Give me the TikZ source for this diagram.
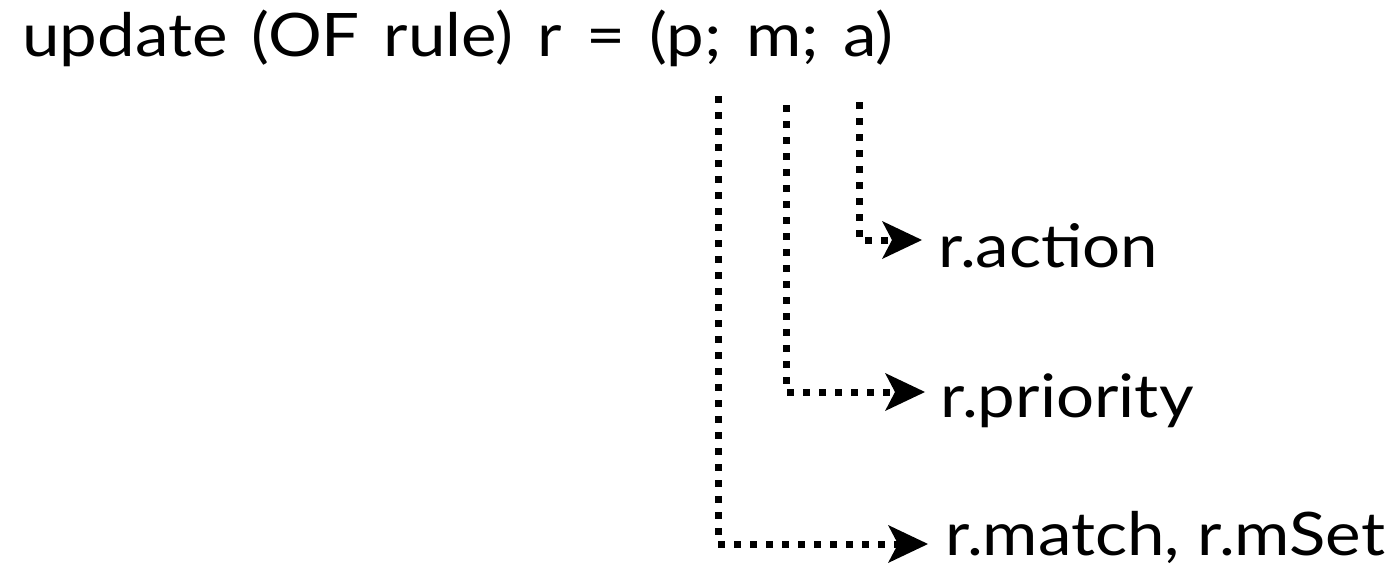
\documentclass[tikz,border=0pt]{standalone}
\usepackage{fontspec}
\setmainfont{Lato}
\usetikzlibrary{arrows.meta}
\begin{document}
\begin{tikzpicture}[x=1pt,y=-1pt,
  lbl/.style={inner sep=0pt,anchor=base west,font=\fontsize{60}{60}\selectfont},
  conn/.style={line width=7pt,dash pattern=on 7pt off 9pt,
    -{Stealth[length=40pt,width=38pt,inset=10pt,line width=0pt]}}]
\useasboundingbox (0,0) rectangle (1397,578);
\node[lbl] (title) at (22,57) {\scalebox{1.12}[1]{\spaceskip=21.5pt update (OF rule) r = (p; m; a)}};
\coordinate (p) at (718,96);
\coordinate (m) at (786,105);
\coordinate (a) at (859,102);
\coordinate (pe) at (928,544);
\coordinate (me) at (925,392);
\coordinate (ae) at (922,240);
\node[lbl] (action) at (938,267) {\scalebox{1.12}[1]{r.action}};
\node[lbl] (priority) at (940,417) {\scalebox{1.12}[1]{r.priority}};
\node[lbl] (match) at (945,555) {\scalebox{1.12}[1]{r.match, r.mSet}};
\draw[conn] (a) |- (ae);
\draw[conn] (m) |- (me);
\draw[conn] (p) |- (pe);
\end{tikzpicture}
\end{document}
